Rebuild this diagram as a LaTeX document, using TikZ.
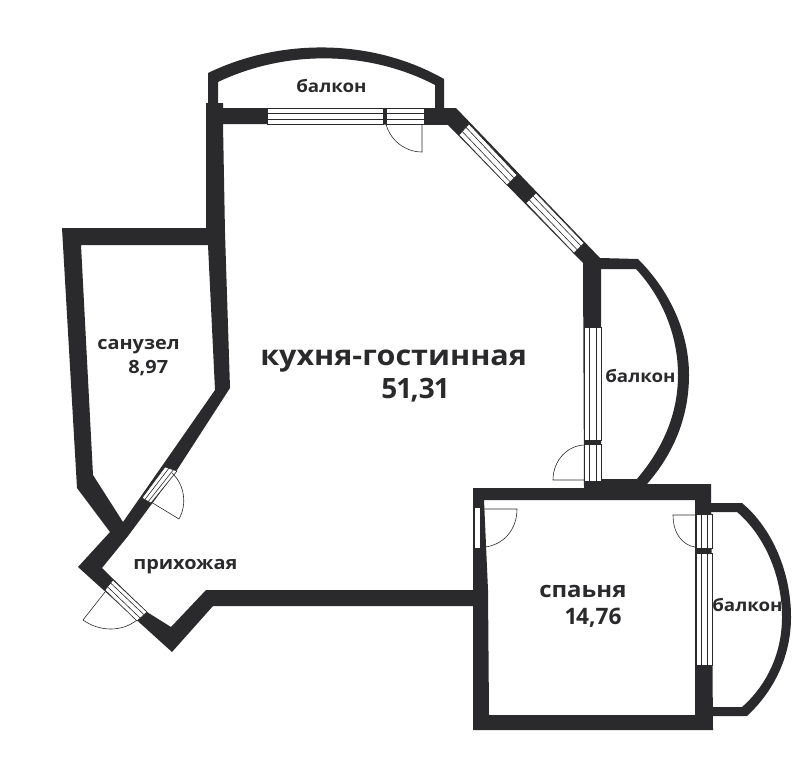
\documentclass[tikz,border=0pt]{standalone}
\usepackage{fontspec}
\setmainfont{Open Sans}[FakeStretch=1.09]
\newfontfamily\numfont{Open Sans}[Numbers=Proportional]
\usetikzlibrary{calc}
\definecolor{wallc}{HTML}{2A2A2C}
\tikzset{
    wall/.style={fill=wallc, draw=none},
    pane/.style={fill=white, draw=wallc, line width=.45pt},
    leaf/.style={draw=wallc, line width=.45pt},
    biglabel/.style={anchor=base west, inner sep=0pt, text=wallc, font=\fontsize{21}{21}\selectfont\bfseries},
    bignum/.style={biglabel, font=\numfont\fontsize{21}{21}\selectfont\bfseries},
    roomlabel/.style={anchor=base west, inner sep=0pt, text=wallc, font=\fontsize{16.5}{16.5}\selectfont\bfseries},
    roomnum/.style={roomlabel, font=\numfont\fontsize{17}{17}\selectfont\bfseries},
    smalllabel/.style={anchor=base west, inner sep=0pt, text=wallc, font=\fontsize{13.7}{13.7}\selectfont\bfseries},
    balclabel/.style={smalllabel, font=\fontsize{12.9}{12.9}\selectfont\bfseries},
}
\newcommand{\winpane}[4]{
    \filldraw[pane] (#1) -- (#2) -- (#3) -- (#4) -- cycle;
    \draw[leaf] ($(#1)!.3!(#4)$) -- ($(#2)!.3!(#3)$);
    \draw[leaf] ($(#1)!.68!(#4)$) -- ($(#2)!.68!(#3)$);
}
\begin{document}
\begin{tikzpicture}[x=.75pt, y=-.75pt]
    \useasboundingbox (0,0) rectangle (812,767);

    \fill[wall, even odd rule]
        (206,103) -- (223,103) -- (223,108) -- (456,108) -- (600,258) -- (601,258) -- (601,479)
        -- (638,479) -- (648,484) -- (711,484) -- (713,730) -- (473,730) -- (473,606) -- (213,606)
        -- (172,652) -- (78,567) -- (110,532) -- (77,488) -- (62,228) -- (206,228) -- cycle
        (223,124) -- (448,125) -- (583,263) -- (584,488) -- (473,488) -- (473,590) -- (206,590)
        -- (171,627) -- (147,612) -- (102,568) -- (128,536) -- (177,470) -- (230,388) -- (225,233) -- cycle
        (81,245) -- (208,245) -- (215,390) -- (123,522) -- (93,475) -- cycle
        (484,500) -- (695,500) -- (695,715) -- (489,715) -- (488,590) -- cycle;

    \fill[wall] (208,103) -- (208,73) .. controls (280,38) and (372,38) .. (444,79) -- (444,108)
        -- (435,108) -- (435,85) .. controls (368,50) and (285,50) .. (218,82) -- (218,103) -- cycle;
    \fill[wall] (600,258) -- (638,259) .. controls (672,293) and (689,335) .. (689,375)
        .. controls (689,415) and (675,452) .. (647,484) -- (636,480)
        .. controls (662,450) and (678,415) .. (678,375)
        .. controls (678,335) and (662,297) .. (636,269) -- (600,269) -- cycle;
    \fill[wall] (711,503) -- (742,503) .. controls (772,528) and (791,572) .. (791,617)
        .. controls (791,655) and (775,690) .. (747,716) -- (712,716) -- (712,707) -- (742,707)
        .. controls (767,685) and (782,653) .. (782,617)
        .. controls (782,575) and (764,535) .. (737,512) -- (711,512) -- cycle;

    \winpane{267,108}{383,108}{383,124}{267,124}
    \winpane{386,108}{424,108}{424,124}{386,124}
    \winpane{469,124}{517,175}{507,185}{459,135}
    \winpane{536,193}{584,243}{574,253}{526,203}
    \winpane{601,327}{601,440}{584,440}{584,327}
    \winpane{601,444}{601,481}{584,481}{584,444}
    \winpane{712,514}{712,548}{696,548}{696,514}
    \winpane{712,553}{712,665}{696,665}{696,553}
    \winpane{177,471}{151,503}{142,498}{165,467}
    \winpane{113,580}{147,612}{137,621}{105,590}
    \fill[white] (475,508) rectangle (480,548);

    \draw[leaf] (386,124) .. controls (390,140) and (405,152) .. (422,152) -- (422,124);
    \draw[leaf] (585,445) .. controls (568,445) and (553,460) .. (553,480) -- (585,480);
    \draw[leaf] (484,509) -- (517,509) .. controls (517,530) and (503,545) .. (485,547);
    \draw[leaf] (696,515) -- (673,515) .. controls (673,533) and (682,545) .. (695,547);
    \draw[leaf] (151,502) -- (179,519) .. controls (187,505) and (185,485) .. (172,473);
    \draw[leaf] (105,592) -- (83,620) .. controls (100,632) and (122,632) .. (137,620);

    \node[balclabel] (toplabel) at (296,92) {балкон};
    \node[biglabel] (kitchen) at (260,365) {кухня-гостинная};
    \node[bignum] (kitchenarea) at (381,398) {51,31};
    \node[smalllabel] (bathlabel) at (97,349) {санузел};
    \node[smalllabel] (batharea) at (128,373) {8,97};
    \node[balclabel] (midlabel) at (605,382) {балкон};
    \node[roomlabel] (bedroom) at (539,597) {спаьня};
    \node[roomnum] (bedroomarea) at (565,624) {14,76};
    \node[balclabel] (rightlabel) at (712,611) {балкон};
    \node[smalllabel] (hall) at (133,569) {прихожая};
\end{tikzpicture}
\end{document}
